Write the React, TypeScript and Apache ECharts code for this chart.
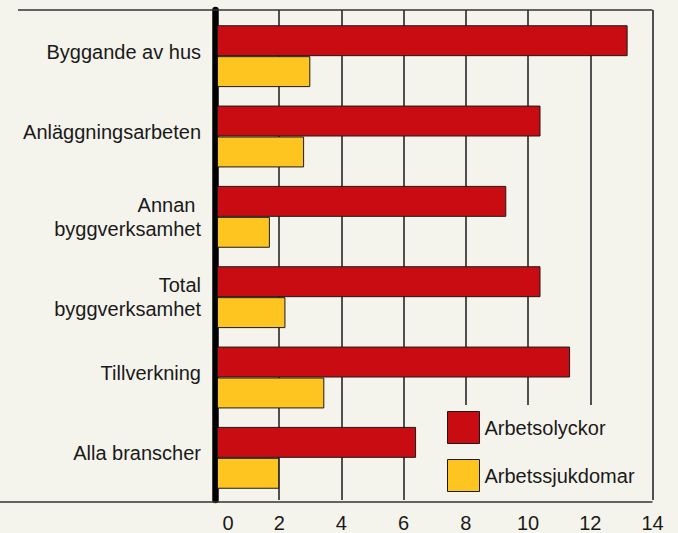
import React, { useEffect, useRef } from "react";
import * as echarts from "echarts";

const categories = [
  "Byggande av hus",
  "Anläggningsarbeten",
  "Annan \nbyggverksamhet",
  "Total\nbyggverksamhet",
  "Tillverkning",
  "Alla branscher",
];
const arbetsolyckor = [13.2, 10.4, 9.3, 10.4, 11.35, 6.4];
const arbetssjukdomar = [3.0, 2.8, 1.7, 2.2, 3.45, 2.0];
const seriesNames = ["Arbetsolyckor", "Arbetssjukdomar"];
const xMin = 0;
const xMax = 14;
const xInterval = 2;

const BG = "#f5f4ec";
const RED = "#c80c12";
const YELLOW = "#fec521";
const INK = "#1a1a1a";
const FONT = "'Liberation Sans', Arial, sans-serif";

export default function App() {
  const ref = useRef<HTMLDivElement>(null);
  useEffect(() => {
    if (!ref.current) return;
    const chart = echarts.init(ref.current, undefined, { renderer: "svg" });
    const labelText = { fontSize: 20, color: INK, fontFamily: FONT };
    chart.setOption({
      animation: false,
      backgroundColor: BG,
      textStyle: { fontFamily: FONT },
      grid: [
        { left: 217, right: 25.5, top: 10, bottom: 31 },
        { left: 217, right: 25.5, top: 16, bottom: 35 },
      ],
      xAxis: [
        {
          gridIndex: 0,
          type: "value",
          min: xMin,
          max: xMax,
          interval: xInterval,
          axisLine: { show: false },
          axisTick: { show: false },
          splitLine: { show: true, lineStyle: { color: INK, width: 1.5 } },
          axisLabel: {
            margin: 13,
            ...labelText,
            formatter: (v: number) => (v === 0 ? "{z|0}" : String(v)),
            rich: { z: { padding: [0, 0, 0, 22], ...labelText } },
          },
        },
        { gridIndex: 1, type: "value", min: xMin, max: xMax, show: false },
      ],
      yAxis: [
        {
          gridIndex: 0,
          type: "value",
          min: 0,
          max: 1,
          offset: 2,
          axisLabel: { show: false },
          axisTick: { show: false },
          splitLine: { show: false },
          axisLine: { show: true, onZero: false, lineStyle: { color: "#000", width: 6.5 } },
        },
        {
          gridIndex: 1,
          type: "category",
          data: categories,
          inverse: true,
          axisLine: { show: false },
          axisTick: { show: false },
          axisLabel: {
            margin: 16,
            ...labelText,
            align: "right",
            formatter: (v: string) =>
              v.indexOf("\n") >= 0
                ? v
                    .split("\n")
                    .map((l) => `{m|${l}}`)
                    .join("\n")
                : `{s|${v}}`,
            rich: {
              s: { ...labelText, padding: [0, 0, 9, 0] },
              m: { ...labelText, lineHeight: 23.5 },
            },
          },
        },
      ],
      legend: {
        data: seriesNames,
        orient: "vertical",
        left: 436,
        top: 405,
        itemWidth: 32,
        itemHeight: 32,
        itemGap: 15,
        icon: "rect",
        backgroundColor: BG,
        padding: [6, 8, 8, 11],
        itemStyle: { borderColor: INK, borderWidth: 1 },
        textStyle: { ...labelText },
      },
      series: [
        {
          name: seriesNames[0],
          type: "bar",
          xAxisIndex: 1,
          yAxisIndex: 1,
          data: arbetsolyckor,
          barGap: "0%",
          barCategoryGap: "23%",
          itemStyle: { color: RED, borderColor: INK, borderWidth: 1 },
        },
        {
          name: seriesNames[1],
          type: "bar",
          xAxisIndex: 1,
          yAxisIndex: 1,
          data: arbetssjukdomar,
          barGap: "0%",
          barCategoryGap: "23%",
          itemStyle: { color: YELLOW, borderColor: INK, borderWidth: 1 },
        },
      ],
      graphic: [
        {
          type: "line",
          shape: { x1: 18, y1: 10, x2: 652.5, y2: 10 },
          style: { stroke: "#333", lineWidth: 1.5 },
          z: 5,
        },
        {
          type: "line",
          shape: { x1: 0, y1: 502, x2: 652.5, y2: 502 },
          style: { stroke: "#333", lineWidth: 1.5 },
          z: 5,
        },
      ],
    });
    return () => chart.dispose();
  }, []);
  return (
    <div
      ref={ref}
      style={{ position: "fixed", left: 0, top: 0, width: 678, height: 533, background: BG }}
    />
  );
}
